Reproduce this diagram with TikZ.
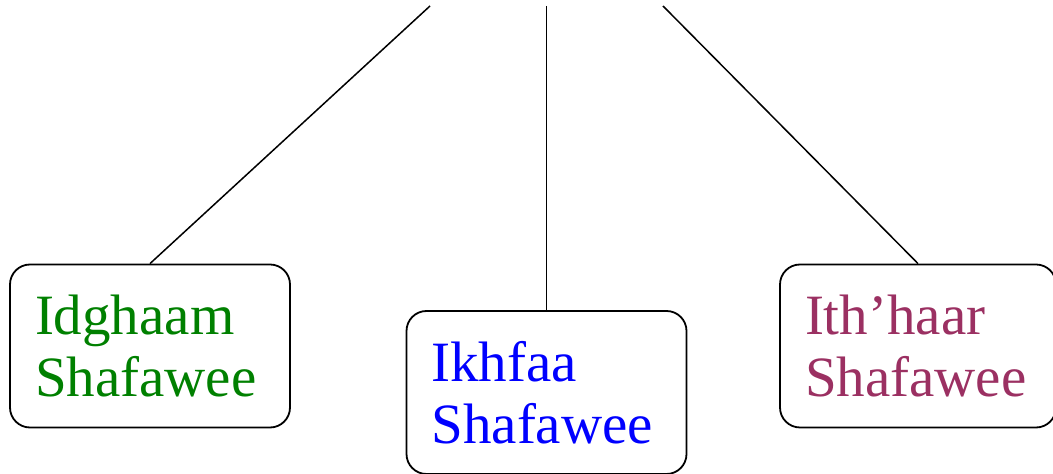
\documentclass[tikz,border=0pt]{standalone}
\usepackage{fontspec}
\setmainfont{Liberation Serif}
\definecolor{idgreen}{RGB}{0,128,0}
\definecolor{ikblue}{RGB}{0,0,255}
\definecolor{ithpurple}{RGB}{155,48,98}

\begin{document}
\begin{tikzpicture}
            [x=0.5pt, y=-0.5pt, line width=0.75pt,
             rulebox/.style={shape=rectangle, draw=black, line width=0.9pt, rounded corners=10pt,
                 minimum height=81.5pt, inner xsep=12.5pt, inner ysep=0pt,
                 text width=115pt, align=left,
                 font=\fontsize{28.5}{31}\selectfont}]
            \useasboundingbox (0, 0) rectangle (1053, 474);
            \node[rulebox, text=idgreen] (idghaam) at (150, 346) {Idghaam\\Shafawee};
            \node[rulebox, text=ikblue] (ikhfaa) at (546.5, 392.5) {Ikhfaa\\Shafawee};
            \node[rulebox, text=ithpurple, minimum width=138pt, text width=113pt] (ithhaar) at (918, 346) {Ith'haar\\Shafawee};
            \coordinate (top1) at (430, 6);
            \coordinate (top2) at (546.5, 6);
            \coordinate (top3) at (663, 6);

            \path [draw] (top1) -- (idghaam.north);
            \path [draw] (top2) -- (ikhfaa.north);
            \path [draw] (top3) -- (ithhaar.north);
        \end{tikzpicture}
\end{document}
